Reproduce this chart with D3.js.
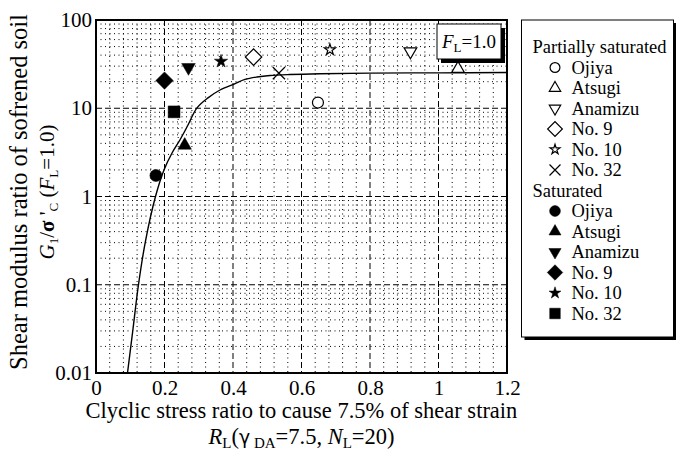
<!DOCTYPE html>
<html>
<head>
<meta charset="utf-8">
<script src="https://cdn.jsdelivr.net/npm/d3@7"></script>
<style>
  html, body { margin: 0; padding: 0; background: #fff; }
  svg { display: block; }
</style>
</head>
<body>
<svg id="chart" width="676" height="455"></svg>
<script>
// ---- data ----
const seriesNames = ["Ojiya", "Atsugi", "Anamizu", "No. 9", "No. 10", "No. 32"];
// partially saturated specimens
const partialRL = [0.648, 1.057, 0.918, 0.46, 0.683, 0.534];
const partialG  = [11.6, 28, 44, 38, 46, 25];
// saturated specimens
const saturatedRL = [0.175, 0.259, 0.27, 0.2, 0.365, 0.228];
const saturatedG  = [1.73, 3.8, 29, 20.6, 34, 9.1];
// fitted relation G1/σ'c vs RL
const curveRL = [0.092, 0.108, 0.124, 0.1445, 0.1737, 0.1985, 0.222, 0.245, 0.2686, 0.2949, 0.327, 0.362, 0.403, 0.435, 0.470, 0.508, 0.566, 0.654, 0.80, 1.004, 1.2];
const curveG  = [0.01, 0.0315, 0.1, 0.313, 1.0, 2.0, 3.11, 4.37, 6.46, 10.1, 13.1, 16.1, 18.8, 21.2, 22.6, 23.5, 24.1, 24.6, 25.0, 25.2, 25.4];
const xTicks = [0, 0.2, 0.4, 0.6, 0.8, 1.0, 1.2];
const xTickLabels = ["0", "0.2", "0.4", "0.6", "0.8", "1", "1.2"];
const yTicks = [0.01, 0.1, 1, 10, 100];
const yTickLabels = ["0.01", "0.1", "1", "10", "100"];

const FONT = "'Liberation Serif', 'Times New Roman', Tinos, 'Nimbus Roman', 'Noto Serif', 'DejaVu Serif', serif";

// ---- layout ----
const svg = d3.select("#chart").attr("font-family", FONT);
const plot = { left: 96, right: 507, top: 20, bottom: 373 };
const x = d3.scaleLinear().domain([0, 1.2]).range([plot.left, plot.right]);
const y = d3.scaleLog().domain([0.01, 100]).range([plot.bottom, plot.top]);

// ---- grid ----
const grid = svg.append("g");
const minorX = d3.range(1, 30).map(i => i * 0.04).filter((v, i) => (i + 1) % 5 !== 0);
const minorY = [];
yTicks.slice(0, -1).forEach(d => { for (let k = 2; k <= 9; k++) minorY.push(d * k); });

grid.selectAll(".mx").data(minorX).join("line")
  .attr("x1", d => x(d)).attr("x2", d => x(d))
  .attr("y1", plot.top).attr("y2", plot.bottom)
  .attr("stroke", "#000").attr("stroke-width", 1).attr("stroke-dasharray", "1,3.5");
grid.selectAll(".my").data(minorY).join("line")
  .attr("y1", d => y(d)).attr("y2", d => y(d))
  .attr("x1", plot.left).attr("x2", plot.right)
  .attr("stroke", "#000").attr("stroke-width", 1).attr("stroke-dasharray", "1,3.5");
grid.selectAll(".Mx").data(xTicks.slice(1, -1)).join("line")
  .attr("x1", d => x(d)).attr("x2", d => x(d))
  .attr("y1", plot.top).attr("y2", plot.bottom)
  .attr("stroke", "#000").attr("stroke-width", 1).attr("stroke-dasharray", "6,3");
grid.selectAll(".My").data(yTicks.slice(1, -1)).join("line")
  .attr("y1", d => y(d)).attr("y2", d => y(d))
  .attr("x1", plot.left).attr("x2", plot.right)
  .attr("stroke", "#000").attr("stroke-width", 1).attr("stroke-dasharray", "6,3");

// ---- axes (labels only, frame drawn separately) ----
const xAxis = svg.append("g").attr("transform", `translate(0,${plot.bottom})`)
  .call(d3.axisBottom(x).tickValues(xTicks).tickSize(0).tickPadding(7)
    .tickFormat((d, i) => xTickLabels[i]));
xAxis.attr("font-family", FONT).attr("font-size", 21);
xAxis.select(".domain").remove();
xAxis.selectAll("text").attr("fill", "#000");

const yAxis = svg.append("g").attr("transform", `translate(${plot.left},0)`)
  .call(d3.axisLeft(y).tickValues(yTicks).tickSize(0).tickPadding(4)
    .tickFormat((d, i) => yTickLabels[i]));
yAxis.attr("font-family", FONT).attr("font-size", 21);
yAxis.select(".domain").remove();
yAxis.selectAll("text").attr("fill", "#000");

// ---- fitted curve ----
const line = d3.line().x(d => x(d[0])).y(d => y(d[1])).curve(d3.curveCatmullRom.alpha(0.5));
svg.append("path")
  .datum(curveRL.map((r, i) => [r, curveG[i]]))
  .attr("d", line).attr("fill", "none").attr("stroke", "#000").attr("stroke-width", 1.4);

// ---- plot frame ----
svg.append("rect")
  .attr("x", plot.left).attr("y", plot.top)
  .attr("width", plot.right - plot.left).attr("height", plot.bottom - plot.top)
  .attr("fill", "none").attr("stroke", "#000").attr("stroke-width", 2);

// ---- symbols ----
const crossType = {
  draw(ctx, size) {
    const r = Math.sqrt(size) / 2;
    ctx.moveTo(-r, -r); ctx.lineTo(r, r);
    ctx.moveTo(r, -r); ctx.lineTo(-r, r);
  }
};
const partialShapes = [
  { type: d3.symbolCircle, size: 95, rot: 0 },
  { type: d3.symbolTriangle, size: 70, rot: 0 },
  { type: d3.symbolTriangle, size: 70, rot: 180 },
  { type: d3.symbolSquare, size: 135, rot: 45 },
  { type: d3.symbolStar, size: 38, rot: 0 },
  { type: crossType, size: 150, rot: 0 }
];
const saturatedShapes = [
  { type: d3.symbolCircle, size: 115, rot: 0 },
  { type: d3.symbolTriangle, size: 78, rot: 0 },
  { type: d3.symbolTriangle, size: 80, rot: 180 },
  { type: d3.symbolSquare, size: 150, rot: 45 },
  { type: d3.symbolStar, size: 55, rot: 0 },
  { type: d3.symbolSquare, size: 140, rot: 0 }
];

function drawMarker(g, shape, cx, cy, filled, scale) {
  g.append("path")
    .attr("d", d3.symbol().type(shape.type).size(shape.size * (scale || 1))())
    .attr("transform", `translate(${cx},${cy}) rotate(${shape.rot})`)
    .attr("fill", filled ? "#000" : "#fff")
    .attr("stroke", "#000")
    .attr("stroke-width", filled ? 0.5 : 1.2);
}

const marks = svg.append("g");
partialRL.forEach((r, i) => drawMarker(marks, partialShapes[i], x(r), y(partialG[i]), false));
saturatedRL.forEach((r, i) => drawMarker(marks, saturatedShapes[i], x(r), y(saturatedG[i]), true));

// ---- FL annotation box ----
const fl = svg.append("g");
fl.append("rect").attr("x", 441).attr("y", 28).attr("width", 64).attr("height", 35).attr("fill", "#000");
fl.append("rect").attr("x", 437).attr("y", 24).attr("width", 64).attr("height", 35)
  .attr("fill", "#fff").attr("stroke", "#000").attr("stroke-width", 1);
const flText = fl.append("text").attr("x", 469).attr("y", 48).attr("text-anchor", "middle")
  .attr("font-size", 19);
flText.append("tspan").attr("font-style", "italic").text("F");
flText.append("tspan").attr("font-size", 13).attr("dy", 4).text("L");
flText.append("tspan").attr("dy", -4).text("=1.0");

// ---- legend ----
const lg = svg.append("g");
const lgBox = { x: 521.5, y: 20, w: 152, h: 317 };
lg.append("rect").attr("x", lgBox.x + 3).attr("y", lgBox.y + 3).attr("width", lgBox.w).attr("height", lgBox.h).attr("fill", "#000");
lg.append("rect").attr("x", lgBox.x).attr("y", lgBox.y).attr("width", lgBox.w).attr("height", lgBox.h)
  .attr("fill", "#fff").attr("stroke", "#000").attr("stroke-width", 1);
const rowY = i => 47 + i * 20.5;
const headFont = 18.5;
lg.append("text").attr("x", 532.5).attr("y", rowY(0) + 6).attr("font-size", headFont).text("Partially saturated");
lg.append("text").attr("x", 532.5).attr("y", rowY(7) + 6).attr("font-size", headFont).text("Saturated");
seriesNames.forEach((name, i) => {
  drawMarker(lg, partialShapes[i], 555, rowY(1 + i), false, 0.8);
  lg.append("text").attr("x", 571.5).attr("y", rowY(1 + i) + 6).attr("font-size", headFont).text(name);
  drawMarker(lg, saturatedShapes[i], 555, rowY(8 + i), true, 0.8);
  lg.append("text").attr("x", 571.5).attr("y", rowY(8 + i) + 6).attr("font-size", headFont).text(name);
});

// ---- axis titles ----
const xc = (plot.left + plot.right) / 2;
svg.append("text").attr("x", xc).attr("y", 418).attr("text-anchor", "middle").attr("font-size", 22.5)
  .text("Clyclic stress ratio to cause 7.5% of shear strain");
const xt2 = svg.append("text").attr("x", xc).attr("y", 444).attr("text-anchor", "middle").attr("font-size", 22.5);
xt2.append("tspan").attr("font-style", "italic").text("R");
xt2.append("tspan").attr("font-size", 15).attr("dy", 4).text("L");
xt2.append("tspan").attr("dy", -4).text("(");
xt2.append("tspan").attr("font-family", "'DejaVu Sans', sans-serif").attr("font-size", 19).text("γ");
xt2.append("tspan").attr("font-size", 15).attr("dy", 4).text(" DA");
xt2.append("tspan").attr("dy", -4).text("=7.5, ");
xt2.append("tspan").attr("font-style", "italic").text("N");
xt2.append("tspan").attr("font-size", 15).attr("dy", 4).text("L");
xt2.append("tspan").attr("dy", -4).text("=20)");

const yc = 192;
svg.append("text").attr("transform", `translate(27,${yc}) rotate(-90)`).attr("text-anchor", "middle")
  .attr("font-size", 24.5).text("Shear modulus ratio of sofrened soil");
const yt2 = svg.append("text").attr("transform", `translate(54,${yc}) rotate(-90)`).attr("text-anchor", "middle")
  .attr("font-size", 21);
yt2.append("tspan").attr("font-style", "italic").text("G");
yt2.append("tspan").attr("font-size", 13).attr("dy", 4).text("1");
yt2.append("tspan").attr("dy", -4).text("/");
yt2.append("tspan").attr("font-weight", "bold").text("σ");
yt2.append("tspan").text(" '");
yt2.append("tspan").attr("font-size", 13).attr("dy", 4).text("C");
yt2.append("tspan").attr("dy", -4).text(" (");
yt2.append("tspan").attr("font-style", "italic").text("F");
yt2.append("tspan").attr("font-size", 13).attr("dy", 4).text("L");
yt2.append("tspan").attr("dy", -4).text("=1.0)");
</script>
</body>
</html>
